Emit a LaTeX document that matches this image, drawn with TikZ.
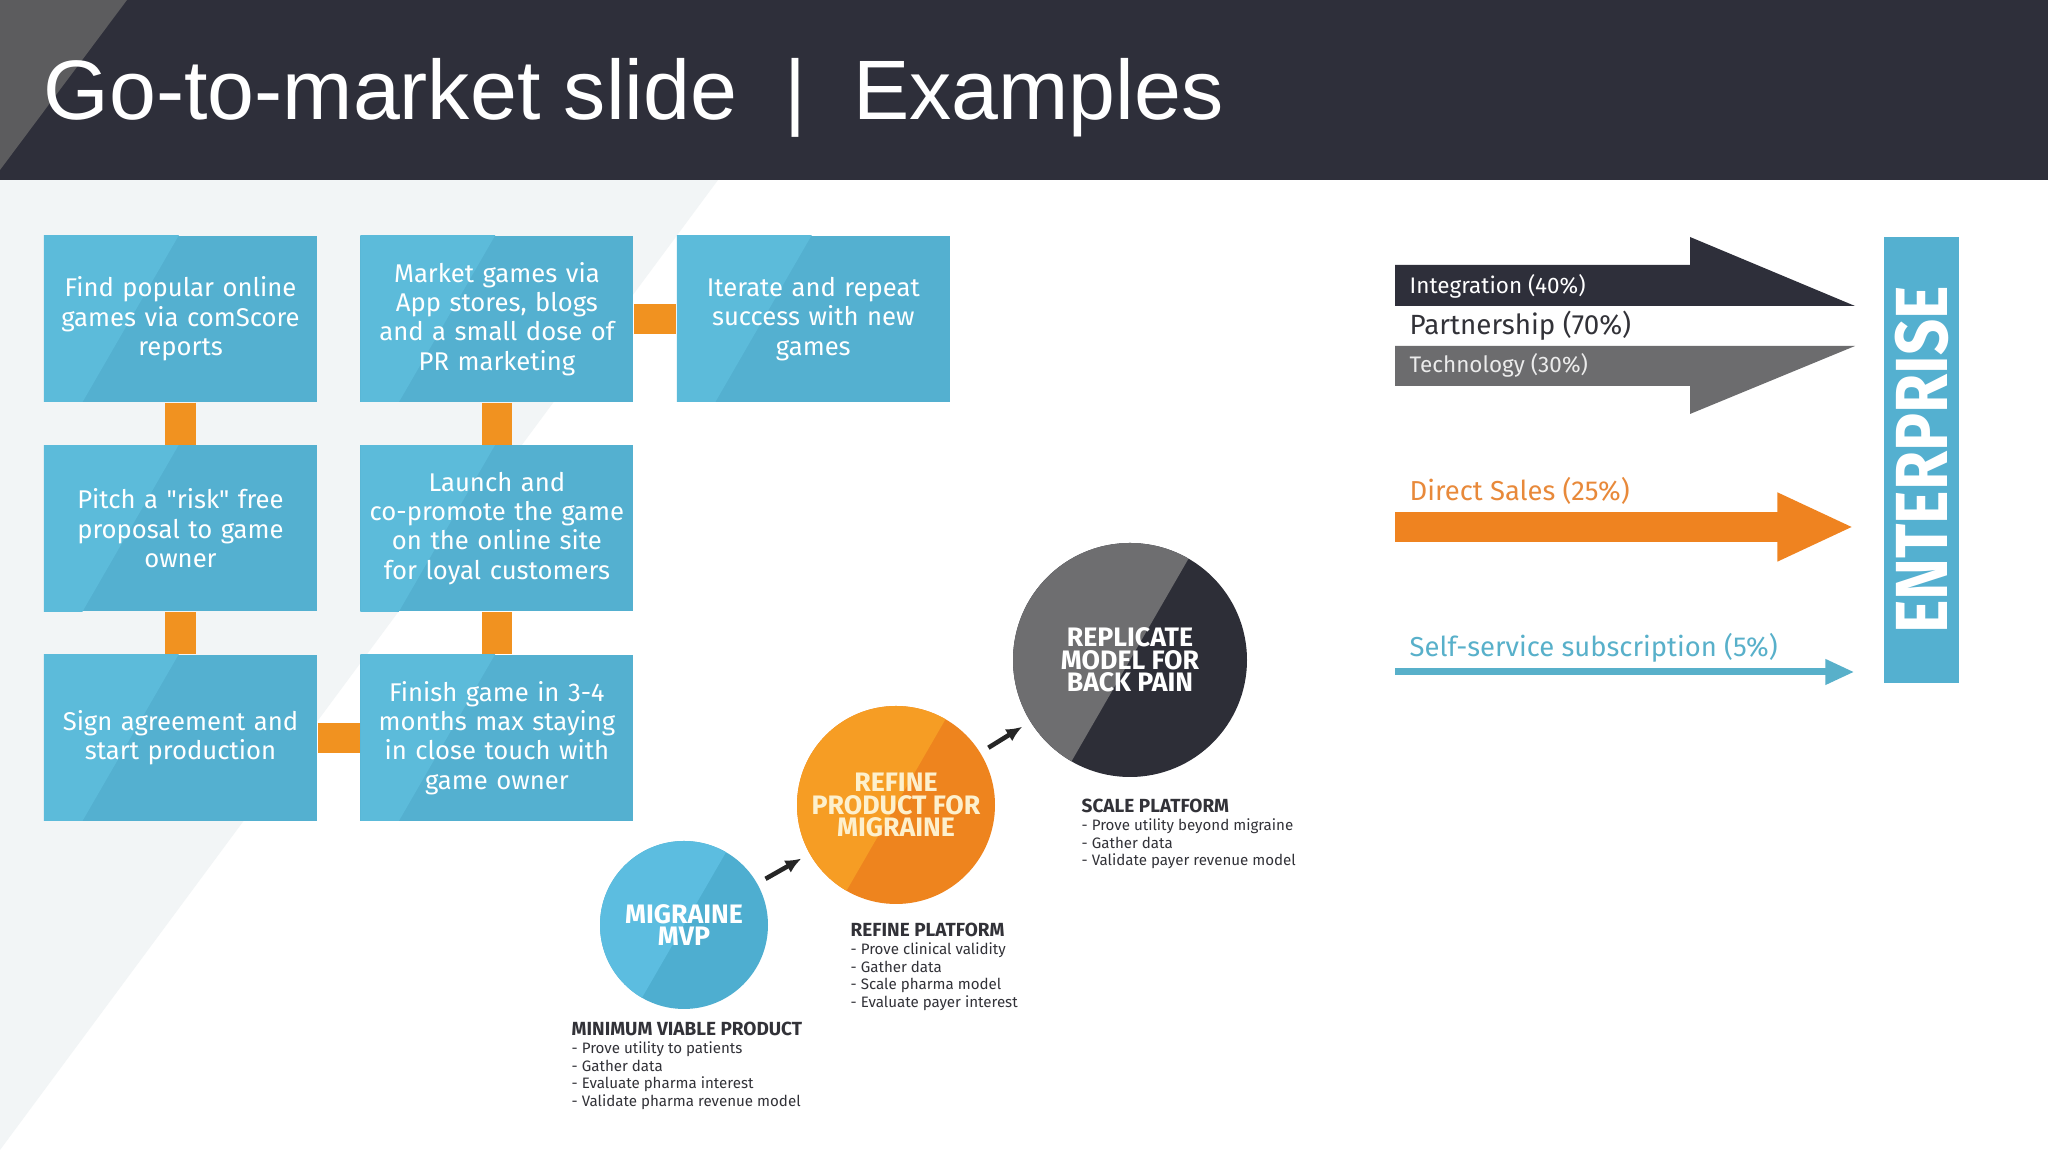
\documentclass[tikz,border=0pt]{standalone}
\usepackage{fontspec}
\setmainfont{Fira Sans}
\newfontfamily\titlefont{Liberation Sans}
\newfontfamily\narrowfont[FakeStretch=0.86]{Fira Sans}
\usetikzlibrary{positioning}
\usetikzlibrary{calc}
\usetikzlibrary{arrows.meta}
\definecolor{headbg}{RGB}{46, 47, 58}
\definecolor{headgray}{RGB}{92, 92, 94}
\definecolor{paleback}{RGB}{242, 245, 246}
\definecolor{boxblue}{RGB}{84, 176, 208}
\definecolor{boxlight}{RGB}{92, 187, 218}
\definecolor{barorange}{RGB}{241, 146, 32}
\definecolor{salesorange}{RGB}{239, 131, 32}
\definecolor{salestext}{RGB}{232, 137, 58}
\definecolor{subteal}{RGB}{88, 176, 202}
\definecolor{grayarrow}{RGB}{108, 108, 110}
\definecolor{textdark}{RGB}{50, 50, 56}
\definecolor{mvpdark}{RGB}{78, 174, 208}
\definecolor{mvplight}{RGB}{92, 189, 224}
\definecolor{refdark}{RGB}{238, 132, 30}
\definecolor{reflight}{RGB}{246, 157, 36}
\definecolor{repdark}{RGB}{45, 46, 55}
\definecolor{replight}{RGB}{110, 110, 112}
\definecolor{cream}{RGB}{253, 240, 205}
\newcommand{\capttl}[1]{{\bfseries\fontsize{5.4}{5.1}\selectfont #1}}

\begin{document}
\begin{tikzpicture}[
    node distance=0.42cm,
    >=latex,
    % node styles
    stepbox/.style = {
      fill=boxblue,
      text=white,
      text width=2.70cm,
      inner sep=0.015cm,
      minimum height=1.66cm,
      align=center,
      font=\fontsize{7.3}{8.35}\selectfont,
      path picture={\fill[boxlight] ($(path picture bounding box.center)+(-0.5,0)+(60:3cm)$)
        -- ++(240:6cm) -- ++(150:6cm) -- ++(60:6cm) -- cycle;}
    },
    stage/.style = {
      circle,
      inner sep=0,
      align=center,
      text=white,
      font=\bfseries\fontsize{7.6}{6.4}\selectfont
    },
    twotone/.style = {
      path picture={\fill[#1] ($(path picture bounding box.center)+(60:3cm)$)
        -- ++(240:6cm) -- ++(150:6cm) -- ++(60:6cm) -- cycle;}
    },
    caption/.style = {
      anchor=north west,
      inner sep=0,
      align=left,
      text=textdark,
      font=\fontsize{4.3}{5.1}\selectfont
    },
    chanlabel/.style = {anchor=west, inner sep=0},
    % arrow styles
    link/.style = {line width=0.3cm, draw=barorange},
    steparr/.style = {-{Latex[length=0.16cm,width=0.14cm]}, line width=1.3pt, draw=black!85,
      shorten <=0.09cm, shorten >=0.09cm},
    salesarr/.style = {-{Triangle[length=0.77cm,width=0.63cm]}, line width=0.3cm,
      draw=salesorange, shorten >=0.29cm},
    subarr/.style = {-{Triangle[length=0.29cm,width=0.24cm]}, line width=0.07cm,
      draw=subteal, shorten >=0.29cm}
  ]

  % --- Background
  \useasboundingbox (0,0) rectangle (20.48,11.52);
  \fill[white] (0,0) rectangle (20.48,11.52);
  \fill[paleback] (0,9.72) -- (7.18,9.72) -- (0,0.02) -- cycle;
  \fill[headbg] (0,9.72) rectangle (20.48,11.52);
  \fill[headgray] (0,11.52) -- (1.27,11.52) -- (0,9.82) -- cycle;

  \node[anchor=base west, inner sep=0, text=white,
    font=\titlefont\fontsize{24}{28}\selectfont] (title) at (0.43,10.32)
    {Go-to-market slide~~|~~Examples};

  % --- Step boxes
  \node[stepbox] (find) at (1.805,8.33) {Find popular online\\games via comScore\\reports};
  \node[stepbox, right=of find] (market) {Market games via\\App stores, blogs\\and a small dose of\\PR marketing};
  \node[stepbox, right=of market] (iterate) {Iterate and repeat\\success with new\\games};

  \node[stepbox, below=of find] (pitch) {Pitch a \textquotedbl risk\textquotedbl{} free\\proposal to game\\owner};
  \node[stepbox, right=of pitch] (launch) {Launch and\\co-promote the game\\on the online site\\for loyal customers};

  \node[stepbox, below=of pitch] (sign) {Sign agreement and\\start production};
  \node[stepbox, right=of sign] (finish) {Finish game in 3-4\\months max staying\\in close touch with\\game owner};

  \draw[link] (find) -- (pitch);
  \draw[link] (pitch) -- (sign);
  \draw[link] (sign) -- (finish);
  \draw[link] (finish) -- (launch);
  \draw[link] (launch) -- (market);
  \draw[link] (market) -- (iterate);

  % --- Stages
  \node[stage, fill=mvpdark, twotone=mvplight, minimum size=1.68cm] (mvp) at (6.84,2.27) {MIGRAINE\\MVP};
  \node[stage, fill=refdark, twotone=reflight, minimum size=1.98cm, text=cream] (refine) at (8.96,3.47) {REFINE\\PRODUCT FOR\\MIGRAINE};
  \node[stage, fill=repdark, twotone=replight, minimum size=2.34cm] (replicate) at (11.30,4.92) {REPLICATE\\MODEL FOR\\BACK PAIN};

  \draw[steparr] (mvp) -- (refine);
  \draw[steparr] (refine) -- (replicate);

  \node[caption] (mvpcap) at (5.71,1.31) {\capttl{MINIMUM VIABLE PRODUCT}\\- Prove utility to patients\\- Gather data\\- Evaluate pharma interest\\- Validate pharma revenue model};
  \node[caption] (refcap) at (8.50,2.30) {\capttl{REFINE PLATFORM}\\- Prove clinical validity\\- Gather data\\- Scale pharma model\\- Evaluate payer interest};
  \node[caption] (scalecap) at (10.81,3.54) {\capttl{SCALE PLATFORM}\\- Prove utility beyond migraine\\- Gather data\\- Validate payer revenue model};

  % --- Channels
  \node[rotate=90, fill=boxblue, text=white, minimum width=4.46cm, minimum height=0.75cm, inner sep=0,
    font=\narrowfont\bfseries\fontsize{21}{21}\selectfont] (ent) at (19.215,6.92) {ENTERPRISE};

  \fill[headbg] (13.95,8.46) -- (13.95,8.87) -- (16.90,8.87) -- (16.90,9.15) -- (18.55,8.46) -- cycle;
  \fill[grayarrow] (13.95,8.06) -- (18.55,8.06) -- (16.90,7.38) -- (16.90,7.66) -- (13.95,7.66) -- cycle;

  \node[chanlabel, text=white, font=\fontsize{6.4}{7}\selectfont] (lblint) at (14.09,8.66) {Integration (40\%)};
  \node[chanlabel, text=textdark, font=\fontsize{7.9}{9}\selectfont] (lblpart) at (14.09,8.26) {Partnership (70\%)};
  \node[chanlabel, text=white!92!black, font=\fontsize{6.4}{7}\selectfont] (lbltech) at (14.09,7.87) {Technology (30\%)};

  \node[chanlabel, text=salestext, font=\fontsize{7.8}{9}\selectfont] (lblsales) at (14.09,6.61) {Direct Sales (25\%)};
  \coordinate (salesstart) at (13.95,6.25);
  \draw[salesarr] (salesstart) -- (salesstart -| ent.north);

  \node[chanlabel, text=subteal, font=\fontsize{7.8}{9}\selectfont] (lblsub) at (14.09,5.04) {Self-service subscription (5\%)};
  \coordinate (substart) at (13.95,4.80);
  \draw[subarr] (substart) -- (substart -| ent.north);

\end{tikzpicture}
\end{document}
